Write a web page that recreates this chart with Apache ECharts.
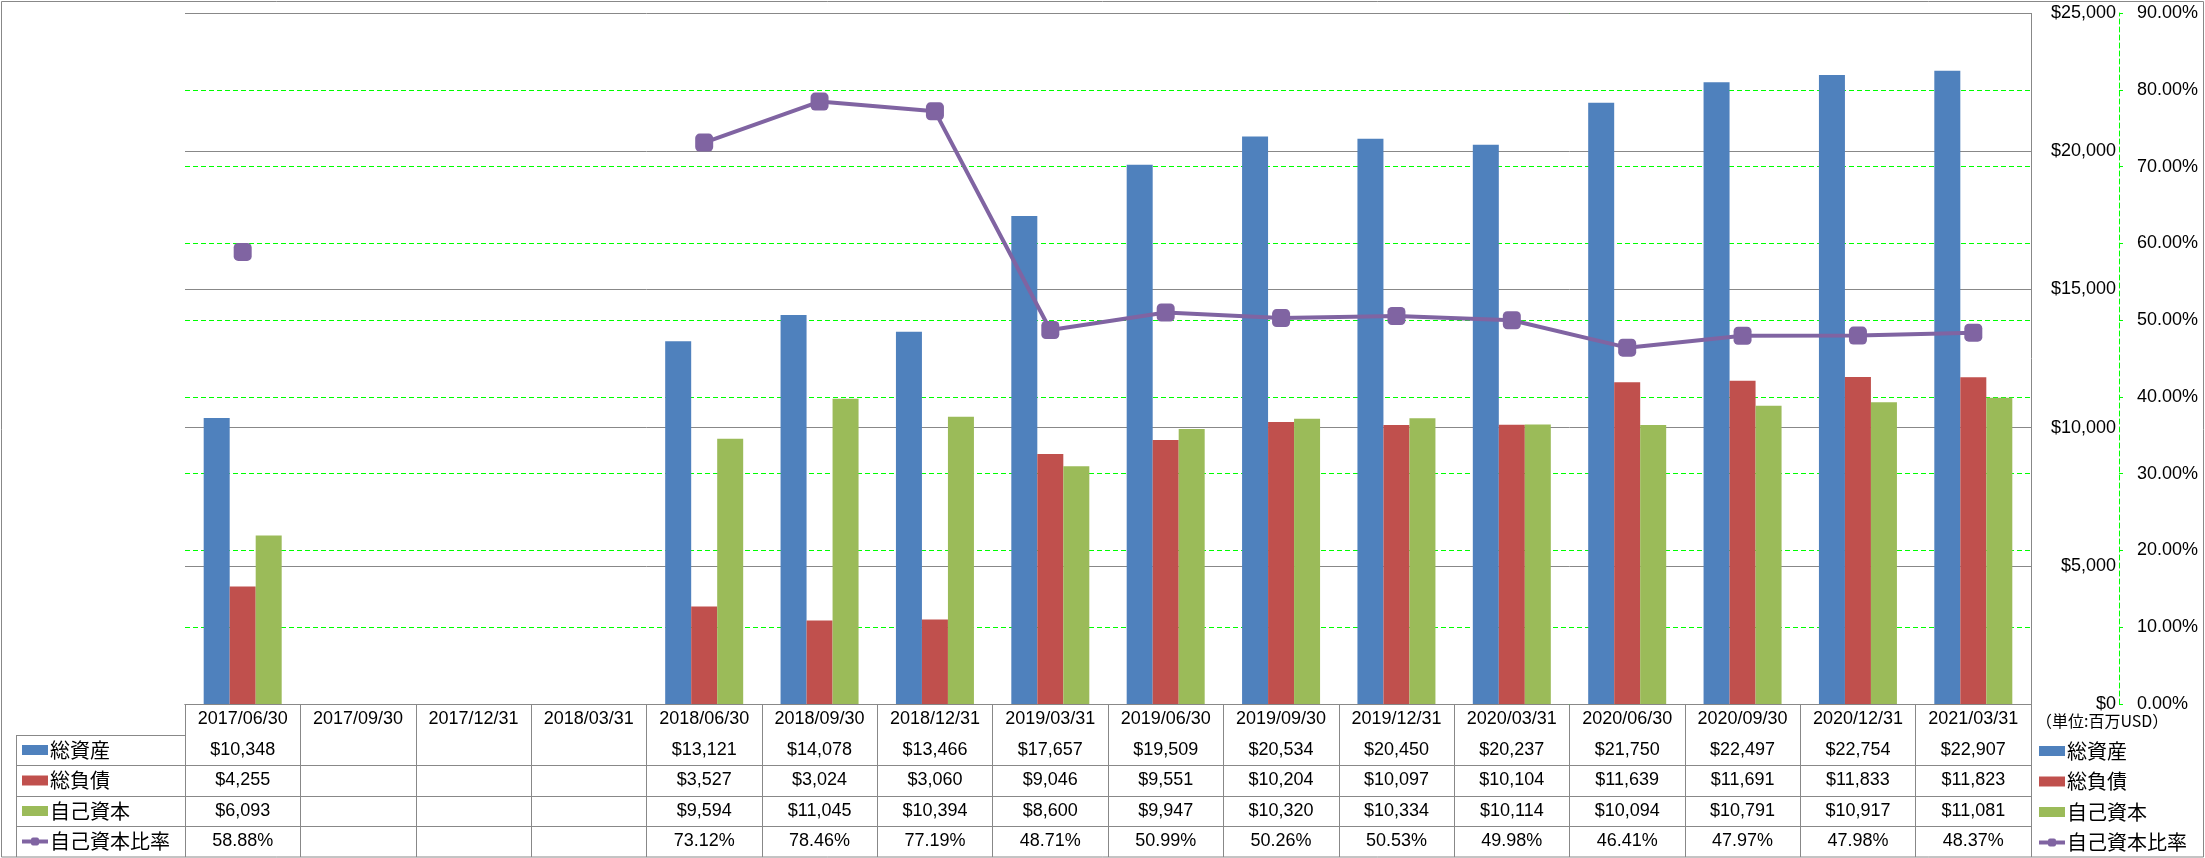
<!DOCTYPE html>
<html>
<head>
<meta charset="utf-8">
<script src="https://cdn.jsdelivr.net/npm/echarts@6/dist/echarts.min.js"></script>
<style>
html,body{margin:0;padding:0;background:#fff;}
#chart{width:2205px;height:858px;}
</style>
</head>
<body>
<div id="chart"></div>
<script>
const categories = ['2017/06/30','2017/09/30','2017/12/31','2018/03/31','2018/06/30','2018/09/30','2018/12/31','2019/03/31','2019/06/30','2019/09/30','2019/12/31','2020/03/31','2020/06/30','2020/09/30','2020/12/31','2021/03/31'];
const totalAssets = [10348,null,null,null,13121,14078,13466,17657,19509,20534,20450,20237,21750,22497,22754,22907];
const totalLiabilities = [4255,null,null,null,3527,3024,3060,9046,9551,10204,10097,10104,11639,11691,11833,11823];
const equity = [6093,null,null,null,9594,11045,10394,8600,9947,10320,10334,10114,10094,10791,10917,11081];
const equityRatio = [58.88,null,null,null,73.12,78.46,77.19,48.71,50.99,50.26,50.53,49.98,46.41,47.97,47.98,48.37];
const seriesNames = ['総資産','総負債','自己資本','自己資本比率'];
const unitText = '（単位:百万USD）';

const colors = ['#4F81BD','#C0504D','#9BBB59','#8064A2'];
const gray = '#888888';
const green = '#00FF00';
const numFont = "'Liberation Sans', Arial, sans-serif";
const jpFont = "'Noto Sans CJK JP', sans-serif";

const gridLeft = 185, gridRight = 2031, gridTop = 13, gridBottom = 704;
const rowOffsets = [31, 61, 92, 122];
const tableBottom = 857;

function fmtMoney(v){ return (v === null || v === undefined) ? '' : '$' + Number(v).toLocaleString('en-US'); }
function fmtPct(v){ return (v === null || v === undefined) ? '' : Number(v).toFixed(2) + '%'; }

const rowData = [totalAssets, totalLiabilities, equity, equityRatio];
const rowFmt = [fmtMoney, fmtMoney, fmtMoney, fmtPct];

const xAxes = [{
  type: 'category', data: categories, gridIndex: 0, position: 'bottom',
  axisLine: {show: true, lineStyle: {color: gray, width: 1}},
  axisTick: {show: true, interval: 0, alignWithLabel: false, length: tableBottom - gridBottom, lineStyle: {color: gray, width: 1}},
  axisLabel: {interval: 0, margin: 6, fontSize: 18, fontFamily: numFont, color: '#000'},
  splitLine: {show: false}
}];
rowOffsets.forEach((off, k) => {
  xAxes.push({
    type: 'category', data: categories, gridIndex: 0, position: 'bottom', offset: off,
    axisLine: {show: true, lineStyle: {color: gray, width: 1}},
    axisTick: {show: false},
    axisLabel: {interval: 0, margin: 6, fontSize: 18, fontFamily: numFont, color: '#000',
      formatter: (val, idx) => rowFmt[k](rowData[k][idx])},
    splitLine: {show: false}
  });
});

const legendData = seriesNames.map((n, i) => i < 3 ? {name: n, icon: 'rect'} : {name: n});
function legend(left, top){
  return {
    orient: 'vertical', left: left, top: top, padding: 0, itemGap: 10.5,
    itemWidth: 26, itemHeight: 10, selectedMode: false,
    lineStyle: {width: 4},
    textStyle: {fontSize: 20, lineHeight: 20, fontFamily: jpFont, color: '#000', padding: [0,0,0,-3]},
    data: legendData
  };
}

const option = {
  animation: false,
  backgroundColor: '#fff',
  grid: {left: gridLeft, right: 2205 - gridRight, top: gridTop, bottom: 858 - gridBottom, containLabel: false},
  legend: [legend(20, 740), legend(2037, 741)],
  xAxis: xAxes,
  yAxis: [{
    type: 'value', min: 0, max: 25000, interval: 5000, position: 'right', offset: 88, z: 2,
    axisLine: {show: false}, axisTick: {show: false},
    axisLabel: {inside: true, margin: 3, fontSize: 18, fontFamily: numFont, color: '#000', formatter: fmtMoney},
    splitLine: {show: true, lineStyle: {color: gray, width: 1}}
  }, {
    type: 'value', min: 0, max: 90, interval: 10, position: 'right', offset: 88, z: 1,
    axisLine: {show: true, lineStyle: {color: green, width: 1, type: [5,3]}},
    axisTick: {show: true, length: 4, lineStyle: {color: green, width: 1}},
    axisLabel: {margin: 18, fontSize: 18, fontFamily: numFont, color: '#000', formatter: fmtPct},
    splitLine: {show: true, lineStyle: {color: green, width: 1, type: [5,3]}}
  }],
  series: [
    {name: seriesNames[0], type: 'bar', data: totalAssets, yAxisIndex: 0, barWidth: 26, barGap: '0%', itemStyle: {color: colors[0]}},
    {name: seriesNames[1], type: 'bar', data: totalLiabilities, yAxisIndex: 0, barWidth: 26, barGap: '0%', itemStyle: {color: colors[1]}},
    {name: seriesNames[2], type: 'bar', data: equity, yAxisIndex: 0, barWidth: 26, barGap: '0%', itemStyle: {color: colors[2]}},
    {name: seriesNames[3], type: 'line', data: equityRatio, yAxisIndex: 1, z: 5,
     symbol: 'roundRect', symbolSize: 18, showSymbol: true, showAllSymbol: true, connectNulls: false,
     lineStyle: {color: colors[3], width: 4}, itemStyle: {color: colors[3]}}
  ],
  graphic: [
    {type: 'rect', silent: true, shape: {x: 1.5, y: 1.5, width: 2202, height: 855.5}, style: {fill: 'none', stroke: gray, lineWidth: 1}},
    {type: 'line', silent: true, shape: {x1: gridRight + 0.5, y1: gridTop, x2: gridRight + 0.5, y2: gridBottom}, style: {stroke: gray, lineWidth: 1}},
    {type: 'line', silent: true, shape: {x1: 16.5, y1: gridBottom + rowOffsets[0], x2: 16.5, y2: tableBottom}, style: {stroke: gray, lineWidth: 1}},
    ...rowOffsets.map(off => ({type: 'line', silent: true, shape: {x1: 16, y1: gridBottom + off + 0.5, x2: gridLeft, y2: gridBottom + off + 0.5}, style: {stroke: gray, lineWidth: 1}})),
    {type: 'text', silent: true, left: 2036, top: 713, style: {text: unitText, fontSize: 16, fontFamily: jpFont, fill: '#000'}}
  ]
};

const chart = echarts.init(document.getElementById('chart'), null, {renderer: 'canvas'});
chart.setOption(option);
</script>
</body>
</html>
